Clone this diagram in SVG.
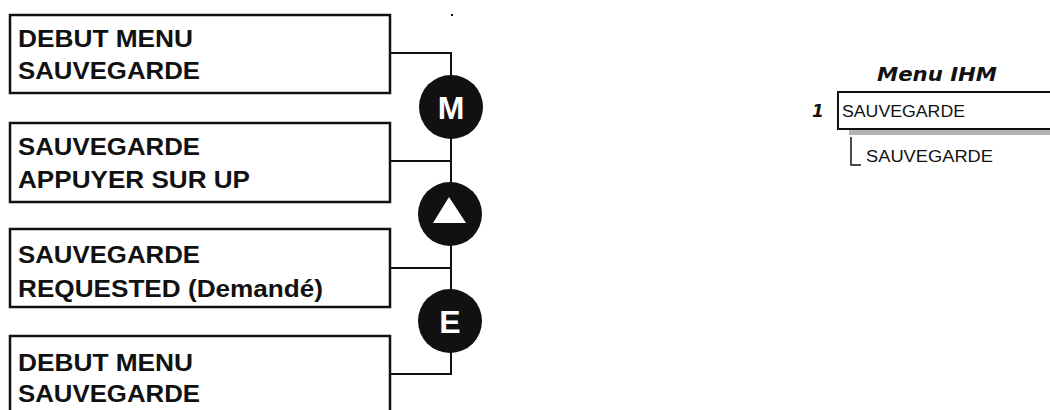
<svg xmlns="http://www.w3.org/2000/svg" width="1050" height="410" viewBox="0 0 1050 410">
<style>
.box{fill:#fff;stroke:#111;stroke-width:2.5}
.lbl{font-family:"Liberation Sans",Arial,sans-serif;font-weight:bold;font-size:24px;fill:#111}
.btn{fill:#111}
.key{font-family:"Liberation Sans",Arial,sans-serif;font-weight:bold;font-size:32px;fill:#fff;text-anchor:middle}
.conn{fill:none;stroke:#111;stroke-width:2}
.menu{font-family:"Liberation Sans",Arial,sans-serif;font-size:16px;fill:#111}
</style>
<rect width="1050" height="410" fill="#fff"/>
<rect x="451" y="14" width="2" height="2" fill="#111"/>
<g id="connectors">
<path class="conn" d="M390 53 H451 V374 H390"/>
<path class="conn" d="M390 161 H451"/>
<path class="conn" d="M390 268 H451"/>
</g>
<g id="box1">
<rect class="box" x="10" y="15" width="380" height="78"/>
<text class="lbl" x="18" y="47" textLength="175" lengthAdjust="spacingAndGlyphs">DEBUT MENU</text>
<text class="lbl" x="18" y="79" textLength="182" lengthAdjust="spacingAndGlyphs">SAUVEGARDE</text>
</g>
<g id="box2">
<rect class="box" x="10" y="123" width="380" height="79"/>
<text class="lbl" x="18" y="155" textLength="182" lengthAdjust="spacingAndGlyphs">SAUVEGARDE</text>
<text class="lbl" x="18" y="188" textLength="232" lengthAdjust="spacingAndGlyphs">APPUYER SUR UP</text>
</g>
<g id="box3">
<rect class="box" x="10" y="229" width="380" height="78"/>
<text class="lbl" x="18" y="263" textLength="182" lengthAdjust="spacingAndGlyphs">SAUVEGARDE</text>
<text class="lbl" x="18" y="297" textLength="305" lengthAdjust="spacingAndGlyphs">REQUESTED (Demandé)</text>
</g>
<g id="box4">
<path class="box" d="M10 412 V336 H390 V412"/>
<text class="lbl" x="18" y="371" textLength="175" lengthAdjust="spacingAndGlyphs">DEBUT MENU</text>
<text class="lbl" x="18" y="402" textLength="182" lengthAdjust="spacingAndGlyphs">SAUVEGARDE</text>
</g>
<g id="key-m">
<circle class="btn" cx="451" cy="107" r="32"/>
<text class="key" x="451" y="119">M</text>
</g>
<g id="key-up">
<circle class="btn" cx="450" cy="214" r="32"/>
<polygon points="449,197 433,223 466,223" fill="#fff"/>
</g>
<g id="key-e">
<circle class="btn" cx="450" cy="321" r="32"/>
<text class="key" x="450" y="333">E</text>
</g>
<g id="menu-ihm">
<text x="937" y="81" text-anchor="middle" font-family="'DejaVu Sans',Verdana,sans-serif" font-weight="bold" font-style="italic" font-size="19" textLength="120" lengthAdjust="spacingAndGlyphs" fill="#111">Menu IHM</text>
<text x="812" y="117" font-family="'DejaVu Sans',Verdana,sans-serif" font-weight="bold" font-style="italic" font-size="17" fill="#111">1</text>
<rect x="849" y="129" width="203" height="6" fill="#b3b3b3"/>
<path d="M838 92 H1052 M838 91 V129 H1052" fill="none" stroke="#111" stroke-width="2"/>
<text class="menu" x="842" y="117" textLength="123" lengthAdjust="spacingAndGlyphs">SAUVEGARDE</text>
<path d="M851 137 V165 H861" fill="none" stroke="#111" stroke-width="1.5"/>
<text class="menu" x="866" y="162" textLength="127" lengthAdjust="spacingAndGlyphs">SAUVEGARDE</text>
</g>
</svg>
